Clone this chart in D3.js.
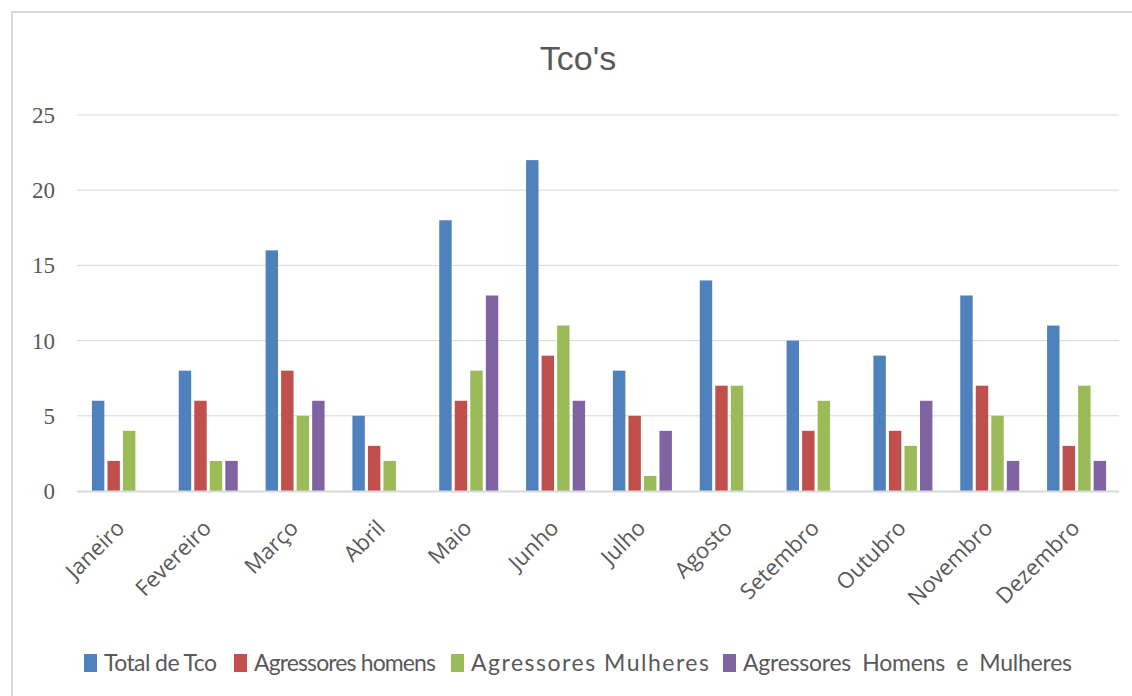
<!DOCTYPE html>
<html>
<head>
<meta charset="utf-8">
<script src="https://cdn.jsdelivr.net/npm/d3@7"></script>
<style>
  body { margin: 0; background: #fff; overflow: hidden; }
  svg { display: block; }
</style>
</head>
<body>
<div id="chart"></div>
<script>
(function () {

  // data
  const months = ['Janeiro', 'Fevereiro', 'Março', 'Abril', 'Maio', 'Junho',
    'Julho', 'Agosto', 'Setembro', 'Outubro', 'Novembro', 'Dezembro']
  const seriesNames = ['Total de Tco', 'Agressores homens', 'Agressores Mulheres', 'Agressores  Homens  e  Mulheres']
  const totalTco = [6, 8, 16, 5, 18, 22, 8, 14, 10, 9, 13, 11]
  const homens = [2, 6, 8, 3, 6, 9, 5, 7, 4, 4, 7, 3]
  const mulheres = [4, 2, 5, 2, 8, 11, 1, 7, 6, 3, 5, 7]
  const homensMulheres = [0, 2, 6, 0, 13, 6, 4, 0, 0, 6, 2, 2]
  const yTicks = [0, 5, 10, 15, 20, 25]

  const seriesValues = [totalTco, homens, mulheres, homensMulheres]
  const colors = ['#4f81bd', '#c0504d', '#9bbb59', '#8064a2']

  const W = 1132, H = 696
  const margin = { top: 115, left: 77, right: 13, bottom: 205 }
  const width = W - margin.left - margin.right
  const height = H - margin.top - margin.bottom

  const svg = d3.select('#chart').append('svg')
    .attr('width', W)
    .attr('height', H)

  // outer chart border (right and bottom edges fall outside the picture)
  svg.append('rect')
    .attr('x', 12).attr('y', 12)
    .attr('width', W + 10).attr('height', H + 10)
    .attr('fill', 'none')
    .attr('stroke', '#d9d9d9')
    .attr('stroke-width', 2)

  svg.append('text')
    .attr('x', 578)
    .attr('y', 70)
    .attr('text-anchor', 'middle')
    .attr('font-family', 'Liberation Sans, Arial')
    .attr('font-size', 34)
    .attr('fill', '#595959')
    .text("Tco's")

  const g = svg.append('g')
    .attr('transform', 'translate(' + margin.left + ',' + margin.top + ')')

  const xScale = d3.scaleBand()
    .domain(months)
    .range([0, width])

  const mid = xScale.bandwidth() / 2 + 1
  const inner = d3.scaleBand()
    .domain(d3.range(4))
    .range([mid - 29.5, mid + 29.5])
    .paddingInner(0.2)

  const yScale = d3.scaleLinear()
    .domain([0, 25])
    .range([height, 0])

  // gridlines
  g.selectAll('.grid')
    .data(yTicks.slice(1))
    .join('line')
    .attr('class', 'grid')
    .attr('x1', 0).attr('x2', width)
    .attr('y1', d => yScale(d)).attr('y2', d => yScale(d))
    .attr('stroke', '#d9d9d9')
    .attr('stroke-width', 1)

  // y labels
  g.selectAll('.ylab')
    .data(yTicks)
    .join('text')
    .attr('class', 'ylab')
    .attr('x', -22)
    .attr('y', d => yScale(d))
    .attr('dy', '0.35em')
    .attr('text-anchor', 'end')
    .attr('font-family', 'Liberation Serif, serif')
    .attr('font-size', 23)
    .attr('fill', '#595959')
    .text(d => d)

  // bars
  seriesValues.forEach((vals, si) => {
    g.append('g')
      .selectAll('rect')
      .data(vals.map((v, i) => ({ month: months[i], value: v })))
      .join('rect')
      .attr('x', d => xScale(d.month) + inner(si))
      .attr('width', inner.bandwidth())
      .attr('y', d => yScale(d.value))
      .attr('height', d => height - yScale(d.value))
      .attr('fill', colors[si])
  })

  // axis line
  g.append('line')
    .attr('x1', 0).attr('x2', width)
    .attr('y1', height + 0.5).attr('y2', height + 0.5)
    .attr('stroke', '#d9d9d9')
    .attr('stroke-width', 2)

  // x labels
  g.selectAll('.xlab')
    .data(months)
    .join('text')
    .attr('class', 'xlab')
    .attr('transform', d => 'translate(' + (xScale(d) + xScale.bandwidth() / 2) + ',' + (height + 33) + ') rotate(-45)')
    .attr('text-anchor', 'end')
    .attr('dy', '0.35em')
    .attr('font-family', 'Open Sans, sans-serif')
    .attr('font-size', 22)
    .attr('fill', '#595959')
    .text(d => d)

  // legend
  const legendX = [84, 234, 451, 723]
  const legendW = [113, 182, 238, 329]
  const legend = svg.append('g')
    .attr('transform', 'translate(0,662)')

  legend.selectAll('rect')
    .data(seriesNames)
    .join('rect')
    .attr('x', (d, i) => legendX[i])
    .attr('y', -8)
    .attr('width', 13)
    .attr('height', 18)
    .attr('fill', (d, i) => colors[i])

  legend.selectAll('text')
    .data(seriesNames)
    .join('text')
    .attr('x', (d, i) => legendX[i] + 20)
    .attr('y', 0)
    .attr('dy', '0.38em')
    .attr('font-family', 'Lato, sans-serif')
    .attr('font-size', 23)
    .attr('fill', '#595959')
    .attr('textLength', (d, i) => legendW[i])
    .attr('lengthAdjust', 'spacing')
    .style('white-space', 'pre')
    .text(d => d)

})();
</script>
</body>
</html>
